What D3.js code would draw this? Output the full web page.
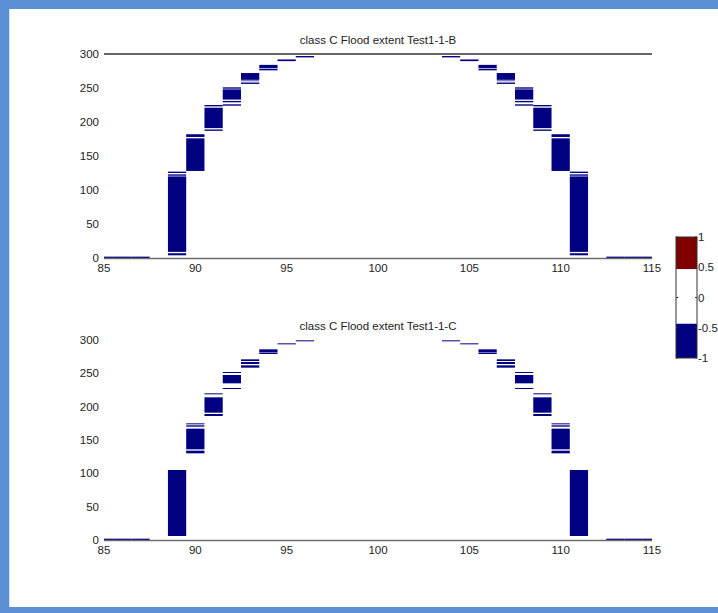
<!DOCTYPE html>
<html>
<head>
<meta charset="utf-8">
<script src="https://cdn.jsdelivr.net/npm/d3@7"></script>
<style>
  html, body { margin: 0; padding: 0; background: #fff; }
  svg { display: block; font-family: "Liberation Sans", Arial, sans-serif; }
</style>
</head>
<body>
<div id="chart"></div>
<script>
// columns of the flood grid (x positions)
var columns = [85, 86, 87, 89, 90, 91, 92, 93, 94, 95, 96,
               104, 105, 106, 107, 108, 109, 110, 111, 113, 114, 115];

// flooded spans [lo, hi] for each column, Test1-1-B
var spansB = [
  [[0, 2]], [[0, 2]], [[0, 2]],
  [[4, 7], [9, 120], [121, 123], [125, 127]],
  [[128, 176], [178, 182]],
  [[187, 189], [191, 221], [223, 225]],
  [[224, 226], [229, 231], [233, 248], [249, 251]],
  [[256, 258], [260, 261], [262, 272]],
  [[276, 278], [279, 284]],
  [[289.5, 292]],
  [[295, 297]],
  [[295, 297]],
  [[289.5, 292]],
  [[276, 278], [279, 284]],
  [[256, 258], [260, 261], [262, 272]],
  [[224, 226], [229, 231], [233, 248], [249, 251]],
  [[187, 189], [191, 221], [223, 225]],
  [[128, 176], [178, 182]],
  [[4, 7], [9, 120], [121, 123], [125, 127]],
  [[0, 2]], [[0, 2]], [[0, 2]]
];

// flooded spans [lo, hi] for each column, Test1-1-C
var spansC = [
  [[0, 2]], [[0, 2]], [[0, 2]],
  [[6, 105]],
  [[130, 134], [136, 167], [170, 172], [173.5, 175]],
  [[186, 189], [191, 214], [218.5, 220]],
  [[226.5, 228], [235, 247.5], [250.5, 252]],
  [[258.5, 262], [264, 267], [268.5, 271]],
  [[279, 281], [281.5, 286]],
  [[293.5, 295]],
  [[298, 299.5]],
  [[298, 299.5]],
  [[293.5, 295]],
  [[279, 281], [281.5, 286]],
  [[258.5, 262], [264, 267], [268.5, 271]],
  [[226.5, 228], [235, 247.5], [250.5, 252]],
  [[186, 189], [191, 214], [218.5, 220]],
  [[130, 134], [136, 167], [170, 172], [173.5, 175]],
  [[6, 105]],
  [[0, 2]], [[0, 2]], [[0, 2]]
];

var xTicks = [85, 90, 95, 100, 105, 110, 115];
var yTicks = [0, 50, 100, 150, 200, 250, 300];
var titles = ["class C Flood extent Test1-1-B", "class C Flood extent Test1-1-C"];

// colorbar bands [lo, hi, colour] and ticks
var cbarBands = [[-1, -0.43, "#000080"], [-0.43, 0.47, "#ffffff"], [0.47, 1, "#800000"]];
var cbarTicks = [-1, -0.5, 0, 0.5, 1];

var W = 718, H = 613;
var floodColor = "#000080";

var svg = d3.select("#chart").append("svg")
  .attr("width", W)
  .attr("height", H);

// window frame
var frame = "#5a8fd5";
svg.append("rect").attr("x", 0).attr("y", 0).attr("width", W).attr("height", 9).attr("fill", frame);
svg.append("rect").attr("x", 0).attr("y", 0).attr("width", 9).attr("height", H).attr("fill", frame);
svg.append("rect").attr("x", 0).attr("y", 607).attr("width", W).attr("height", 6).attr("fill", frame);
svg.append("line").attr("x1", 9.5).attr("x2", 9.5).attr("y1", 9).attr("y2", 607)
  .attr("stroke", "#cfdff3").attr("stroke-width", 1);

var x = d3.scaleLinear().domain([85, 115]).range([104, 652]);

var panels = [
  { spans: spansB, y: d3.scaleLinear().domain([0, 300]).range([258, 54]), title: titles[0], topLine: true },
  { spans: spansC, y: d3.scaleLinear().domain([0, 300]).range([540, 340]), title: titles[1], topLine: false }
];

panels.forEach(function (p) {
  var g = svg.append("g");

  // cells
  columns.forEach(function (c, i) {
    var x0 = Math.max(x.domain()[0], c - 0.5);
    var x1 = Math.min(x.domain()[1], c + 0.5);
    g.selectAll(null)
      .data(p.spans[i])
      .enter()
      .append("rect")
      .attr("x", x(x0))
      .attr("width", x(x1) - x(x0))
      .attr("y", function (d) { return p.y(d[1]); })
      .attr("height", function (d) { return p.y(d[0]) - p.y(d[1]); })
      .attr("fill", floodColor);
  });

  // x axis
  g.append("line")
    .attr("x1", x(85)).attr("x2", x(115))
    .attr("y1", p.y(0) + 0.5).attr("y2", p.y(0) + 0.5)
    .attr("stroke", "#6e6e6e").attr("stroke-width", 1.6);

  if (p.topLine) {
    g.append("line")
      .attr("x1", x(85)).attr("x2", x(115))
      .attr("y1", p.y(300)).attr("y2", p.y(300))
      .attr("stroke", "#333").attr("stroke-width", 1.3);
  }

  g.selectAll(".xt")
    .data(xTicks)
    .enter()
    .append("text")
    .attr("x", function (d) { return x(d); })
    .attr("y", p.y(0) + 14)
    .attr("text-anchor", "middle")
    .attr("font-size", 11.5)
    .attr("fill", "#222")
    .text(function (d) { return d; });

  g.selectAll(".yt")
    .data(yTicks)
    .enter()
    .append("text")
    .attr("x", 99)
    .attr("y", function (d) { return p.y(d) + 4; })
    .attr("text-anchor", "end")
    .attr("font-size", 11.5)
    .attr("fill", "#222")
    .text(function (d) { return d; });

  g.append("text")
    .attr("x", x(100))
    .attr("y", p.y(300) - 10)
    .attr("text-anchor", "middle")
    .attr("font-size", 11.5)
    .attr("fill", "#222")
    .text(p.title);
});

// colorbar
var cy = d3.scaleLinear().domain([-1, 1]).range([358, 237]);
var cb = svg.append("g");
var cbX = 676, cbW = 21;
cb.selectAll("rect.band")
  .data(cbarBands)
  .enter()
  .append("rect")
  .attr("x", cbX)
  .attr("width", cbW)
  .attr("y", function (d) { return cy(d[1]); })
  .attr("height", function (d) { return cy(d[0]) - cy(d[1]); })
  .attr("fill", function (d) { return d[2]; });
cb.append("rect")
  .attr("x", cbX).attr("y", cy(1))
  .attr("width", cbW).attr("height", cy(-1) - cy(1))
  .attr("fill", "none").attr("stroke", "#333").attr("stroke-width", 1);
cb.selectAll("line.tk")
  .data(cbarTicks)
  .enter()
  .append("line")
  .attr("x1", cbX + cbW - 2).attr("x2", cbX + cbW)
  .attr("y1", function (d) { return cy(d); })
  .attr("y2", function (d) { return cy(d); })
  .attr("stroke", "#333");
cb.selectAll("line.tl")
  .data(cbarTicks)
  .enter()
  .append("line")
  .attr("x1", cbX).attr("x2", cbX + 2)
  .attr("y1", function (d) { return cy(d); })
  .attr("y2", function (d) { return cy(d); })
  .attr("stroke", "#333");
cb.selectAll("text")
  .data(cbarTicks)
  .enter()
  .append("text")
  .attr("x", cbX + cbW + 1)
  .attr("y", function (d) { return cy(d) + 4; })
  .attr("font-size", 11.5)
  .attr("fill", "#222")
  .text(function (d) { return d; });
</script>
</body>
</html>
